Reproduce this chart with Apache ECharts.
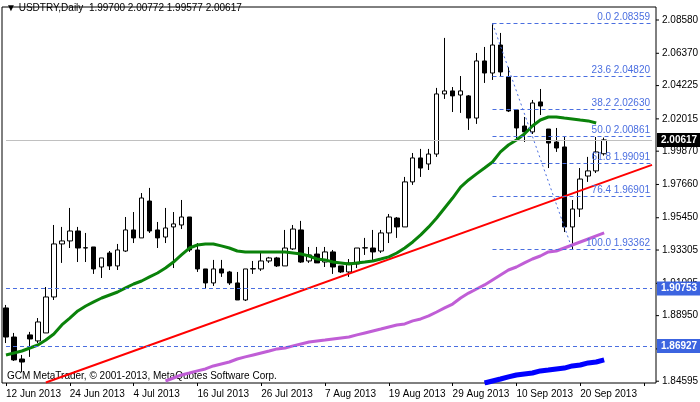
<!DOCTYPE html>
<html><head><meta charset="utf-8">
<script src="https://cdn.jsdelivr.net/npm/echarts@6/dist/echarts.min.js"></script>
<style>html,body{margin:0;padding:0;background:#fff}#c{width:700px;height:402px}</style>
</head><body><div id="c"></div>
<script>
// candles: [open, close, low, high]
const candles = [
[1.8946,1.8753,1.8713,1.8966],[1.8753,1.8601,1.8594,1.8780],[1.8607,1.8587,1.8521,1.8634],[1.8767,1.8740,1.8621,1.8787],
[1.8727,1.8853,1.8713,1.8879],[1.8780,1.9019,1.8780,1.9085],[1.9019,1.9371,1.8999,1.9497],[1.9371,1.9391,1.9245,1.9484],
[1.9391,1.9457,1.9344,1.9610],[1.9457,1.9344,1.9251,1.9484],[1.9344,1.9346,1.9251,1.9444],[1.9351,1.9205,1.9172,1.9351],
[1.9218,1.9278,1.9145,1.9278],[1.9311,1.9225,1.9198,1.9324],[1.9225,1.9331,1.9198,1.9371],[1.9324,1.9464,1.9318,1.9550],
[1.9464,1.9411,1.9377,1.9583],[1.9411,1.9676,1.9411,1.9709],[1.9656,1.9457,1.9444,1.9743],[1.9464,1.9411,1.9344,1.9517],
[1.9417,1.9477,1.9377,1.9610],[1.9484,1.9504,1.9211,1.9583],[1.9497,1.9550,1.9470,1.9663],[1.9550,1.9331,1.9318,1.9550],
[1.9331,1.9205,1.9185,1.9377],[1.9205,1.9112,1.9072,1.9205],[1.9112,1.9205,1.9092,1.9265],[1.9205,1.9178,1.9152,1.9265],
[1.9185,1.9112,1.9099,1.9192],[1.9112,1.8999,1.8999,1.9185],[1.8999,1.9205,1.8992,1.9205],[1.9205,1.9207,1.9172,1.9258],
[1.9205,1.9258,1.9192,1.9311],[1.9258,1.9278,1.9245,1.9285],[1.9278,1.9225,1.9218,1.9285],[1.9225,1.9344,1.9225,1.9464],
[1.9338,1.9470,1.9331,1.9497],[1.9464,1.9251,1.9245,1.9524],[1.9258,1.9298,1.9245,1.9351],[1.9304,1.9245,1.9245,1.9351],
[1.9251,1.9318,1.9218,1.9351],[1.9318,1.9218,1.9172,1.9331],[1.9225,1.9185,1.9178,1.9225],[1.9185,1.9245,1.9152,1.9271],
[1.9238,1.9344,1.9211,1.9344],[1.9344,1.9346,1.9298,1.9411],[1.9344,1.9318,1.9265,1.9464],[1.9324,1.9444,1.9311,1.9464],
[1.9444,1.9550,1.9377,1.9570],[1.9543,1.9484,1.9411,1.9550],[1.9484,1.9783,1.9484,1.9816],[1.9783,1.9942,1.9763,1.9975],
[1.9942,1.9875,1.9816,2.0002],[1.9902,1.9968,1.9862,2.0002],[1.9968,2.0367,1.9949,2.0407],[2.0367,2.0387,2.0334,2.0739],
[2.0387,2.0354,2.0247,2.0413],[2.0360,2.0387,2.0241,2.0486],[2.0354,2.0207,2.0128,2.0360],[2.0207,2.0586,2.0168,2.0639],
[2.0586,2.0506,2.0440,2.0679],[2.0506,2.0692,2.0460,2.0836],[2.0692,2.0513,2.0480,2.0772],[2.0480,2.0254,2.0247,2.0546],
[2.0261,2.0141,2.0061,2.0261],[2.0154,2.0115,2.0048,2.0214],[2.0115,2.0307,2.0101,2.0327],[2.0314,2.0287,2.0227,2.0400],
[2.0134,2.0041,1.9875,2.0134],[2.0048,2.0008,1.9982,2.0141],[2.0015,1.9484,1.9450,2.0081],[1.9484,1.9603,1.9336,1.9663],
[1.9603,1.9802,1.9550,1.9875],[1.9822,1.9856,1.9783,1.9949],[1.9856,1.9982,1.9842,2.0081],[1.99700,2.00617,1.99577,2.00772]
];
const maGreen = [1.8634,1.8647,1.8660,1.8680,1.8700,1.8733,1.8773,1.8833,1.8879,1.8926,1.8959,1.8986,1.9012,1.9032,1.9052,1.9079,
1.9105,1.9125,1.9152,1.9178,1.9211,1.9251,1.9298,1.9344,1.9364,1.9371,1.9371,1.9358,1.9344,1.9324,1.9318,1.9318,1.9318,1.9318,
1.9318,1.9318,1.9311,1.9304,1.9291,1.9271,1.9265,1.9251,1.9245,1.9238,1.9245,1.9251,1.9258,1.9271,1.9285,1.9311,1.9344,1.9384,
1.9431,1.9484,1.9543,1.9610,1.9676,1.9749,1.9796,1.9836,1.9875,1.9915,1.9982,2.0028,2.0061,2.0101,2.0154,2.0194,2.0214,2.0214,
2.0207,2.0201,2.0194,2.0188,2.0174];
const maPurpleStart = 20;
const maPurple = [1.8461,1.8481,1.8501,1.8514,1.8528,1.8541,1.8561,1.8574,1.8587,1.8607,1.8621,1.8634,1.8647,1.8660,1.8674,1.8680,
1.8694,1.8707,1.8720,1.8727,1.8733,1.8740,1.8747,1.8753,1.8767,1.8780,1.8793,1.8806,1.8820,1.8833,1.8840,1.8860,1.8873,1.8893,
1.8919,1.8946,1.8972,1.9012,1.9045,1.9072,1.9099,1.9132,1.9165,1.9198,1.9218,1.9245,1.9271,1.9291,1.9318,1.9324,1.9344,1.9364,
1.9384,1.9404,1.9424,1.9444];
const maBlueStart = 60;
const maBlue = [1.8448,1.8461,1.8474,1.8488,1.8501,1.8508,1.8514,1.8528,1.8534,1.8541,1.8547,1.8561,1.8567,1.8581,1.8587,1.8601];
const trendPoints = [[5,1.8451],[81,1.9896]];
const fibLevels = ['0.0','23.6','38.2','50.0','61.8','76.4','100.0'];
const fibValues = [2.08359,2.04820,2.02630,2.00861,1.99091,1.96901,1.93362];
const fibFrom = 61, fibTo = 71;
const hLines = [1.90753,1.86927];
const lastPrice = 2.00617;
const yTicks = [2.08580,2.06370,2.04225,2.02015,1.99870,1.97660,1.95450,1.93305,1.91095,1.88950,1.86740,1.84595];
const dateLabels = ['12 Jun 2013','24 Jun 2013','4 Jul 2013','16 Jul 2013','26 Jul 2013','7 Aug 2013','19 Aug 2013','29 Aug 2013','10 Sep 2013','20 Sep 2013'];
const N = 82;

const cats = []; for (let i=0;i<N;i++) cats.push(String(i));
const pad = (start, arr) => { const a = new Array(N).fill(null); arr.forEach((v,i)=>a[start+i]=v); return a; };
const trend = new Array(N).fill(null); trendPoints.forEach(p=>trend[p[0]]=p[1]);
const FONT = 'Liberation Sans';
const fibColor = '#4a6ee0';

const chart = echarts.init(document.getElementById('c'));
const fibMark = fibValues.map((v,i)=>[
  {coord:[fibFrom, v], label:{show:true, position:'insideEndTop', formatter: fibLevels[i]+' '+v.toFixed(5), color:fibColor, fontFamily:FONT, fontSize:10, distance:[2,1]}},
  {coord:[N-1, v]}
]);
fibMark.push([{coord:[fibFrom, fibValues[0]], lineStyle:{type:[2,3], width:1}, label:{show:false}}, {coord:[fibTo, fibValues[6]]}]);
hLines.forEach(v=>fibMark.push([{xAxis:0, yAxis:v, label:{show:false}},{xAxis:N-1, yAxis:v}]));

chart.setOption({
  animation:false,
  grid:{left:2, right:44, top:7, bottom:19, show:true, borderColor:'#000', borderWidth:1, backgroundColor:'#fff'},
  xAxis:{type:'category', data:cats, boundaryGap:true,
    axisLine:{show:false}, axisTick:{show:true, interval:7, length:3, lineStyle:{color:'#000'}, alignWithLabel:true},
    axisLabel:{interval:7, align:'left', margin:6, color:'#000', fontFamily:FONT, fontSize:10,
      formatter:(v,i)=>dateLabels[i/8] || ''},
    splitLine:{show:false}},
  yAxis:{type:'value', position:'right', min:2.09908-0.000664*383, max:2.09908-0.000664*7,
    axisLine:{show:false}, axisTick:{show:false}, axisLabel:{show:false}, splitLine:{show:false}},
  series:[
    {type:'line', data:[], markLine:{symbol:'none', silent:true, animation:false,
      lineStyle:{color:fibColor, type:[4,3], width:1}, data:fibMark}},
    {type:'line', data:new Array(N).fill(null), markLine:{symbol:'none', silent:true,
      lineStyle:{color:'#c0c0c0', type:'solid', width:1}, label:{show:false}, data:[[{xAxis:0,yAxis:lastPrice},{xAxis:N-1,yAxis:lastPrice}]]}},
    {type:'line', data:pad(maBlueStart, maBlue), symbol:'none', lineStyle:{color:'#0000ff', width:5}},
    {type:'line', data:pad(maPurpleStart, maPurple), symbol:'none', lineStyle:{color:'#c05ed6', width:3}},
    {type:'line', data:trend, connectNulls:true, symbol:'none', lineStyle:{color:'#ff0000', width:2}},
    {type:'line', data:pad(0, maGreen), symbol:'none', lineStyle:{color:'#0a820a', width:3}},
    {type:'candlestick', data:candles, barWidth:5,
      itemStyle:{color:'#ffffff', color0:'#000000', borderColor:'#000000', borderColor0:'#000000', borderWidth:1}}
  ]
});

const gx = 656;
const g = [];
yTicks.forEach(v=>{
  const y = chart.convertToPixel({yAxisIndex:0}, v);
  g.push({type:'line', shape:{x1:gx, y1:y, x2:gx+3, y2:y}, style:{stroke:'#000'}});
  g.push({type:'text', x:gx+6, y:y, style:{text:v.toFixed(5), fill:'#000', font:'10px '+FONT, textVerticalAlign:'middle'}});
});
const box = (v, bg)=>{
  const y = chart.convertToPixel({yAxisIndex:0}, v);
  g.push({type:'rect', shape:{x:gx+1, y:y-7, width:43, height:14}, style:{fill:bg}});
  g.push({type:'text', x:gx+5, y:y, style:{text:v.toFixed(5), fill:'#fff', font:'bold 10px '+FONT, textVerticalAlign:'middle'}});
};
box(lastPrice, '#000');
hLines.forEach(v=>box(v, '#3c64e0'));
g.push({type:'text', left:6, top:3, style:{text:'▼ USDTRY,Daily  1.99700 2.00772 1.99577 2.00617', fill:'#000', font:'10px '+FONT}});
g.push({type:'text', left:7, top:371, style:{text:'GCM MetaTrader, © 2001-2013, MetaQuotes Software Corp.', fill:'#000', font:'10px '+FONT}});
chart.setOption({graphic:g});
</script></body></html>
